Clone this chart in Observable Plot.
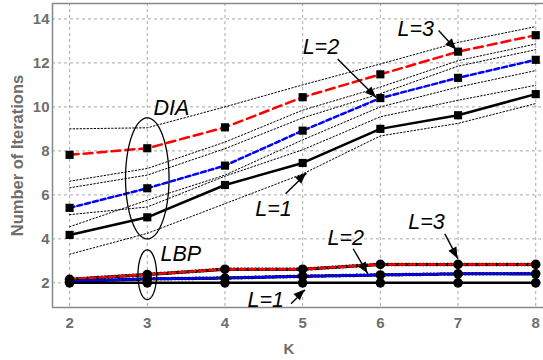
<!DOCTYPE html>
<html><head><meta charset="utf-8">
<script src="https://cdn.jsdelivr.net/npm/d3@7"></script>
<script src="https://cdn.jsdelivr.net/npm/@observablehq/plot@0.6"></script>
<style>body{margin:0;background:#fff} svg{display:block}</style>
</head><body><div id="chart"></div>
<script>
// ---- data ----
const K = [2, 3, 4, 5, 6, 7, 8];
// DIA means
const diaL1 = [4.18, 4.98, 6.45, 7.45, 9.0, 9.62, 10.58];
const diaL2 = [5.41, 6.3, 7.33, 8.92, 10.4, 11.32, 12.14];
const diaL3 = [7.82, 8.12, 9.07, 10.44, 11.48, 12.51, 13.26];
// DIA dotted bounds
const diaL1Up = [5.1, 5.45, 6.85, 8.05, 9.55, 10.3, 10.98];
const diaL1Lo = [3.3, 4.25, 5.6, 6.95, 8.68, 9.25, 10.15];
const diaL2Up = [6.32, 6.9, 8.1, 9.5, 10.6, 11.85, 12.6];
const diaL2Lo = [4.55, 5.76, 6.9, 8.5, 10.0, 10.9, 11.65];
const diaL3Up = [9.0, 9.05, 10.0, 11.0, 11.95, 12.93, 13.65];
const diaL3Lo = [6.62, 7.2, 8.4, 9.85, 10.9, 12.1, 12.86];
// LBP means
const lbpL1 = [2.0, 2.0, 2.0, 2.0, 2.0, 2.0, 2.0];
const lbpL2 = [2.07, 2.18, 2.22, 2.3, 2.36, 2.41, 2.41];
const lbpL3 = [2.16, 2.38, 2.62, 2.62, 2.84, 2.84, 2.84];
// ticks
const xTicks = [2, 3, 4, 5, 6, 7, 8];
const yTicks = [2, 4, 6, 8, 10, 12, 14];
// annotations
const labelText = ["DIA", "LBP", "L=1", "L=2", "L=3", "L=1", "L=2", "L=3"];
const labelX = [3.08, 3.17, 4.39, 5.0, 6.22, 4.29, 5.32, 6.36];
const labelY = [9.65, 2.98, 5.06, 12.42, 13.24, 0.9, 3.74, 4.47];
const arrowX1 = [4.78, 5.45, 6.75, 4.85, 5.65, 6.83];
const arrowY1 = [6.05, 12.18, 13.47, 1.05, 3.55, 4.23];
const arrowX2 = [5.05, 5.95, 6.98, 5.03, 5.84, 7.0];
const arrowY2 = [6.98, 10.41, 12.59, 1.68, 2.41, 3.09];
const ellipseK = [3, 3];
const ellipseY1 = [4.0, 1.24];
const ellipseY2 = [9.5, 3.5];
const ellipseDK = [0.28, 0.12];

// ---- tables ----
const rows = (arr) => K.map((k, i) => ({k, v: arr[i]}));
const bounds = [diaL1Up, diaL1Lo, diaL2Up, diaL2Lo, diaL3Up, diaL3Lo]
  .flatMap((arr, j) => K.map((k, i) => ({k, v: arr[i], s: j})));
const labels = labelText.map((t, i) => ({t, x: labelX[i], y: labelY[i]}));
const arrows = arrowX1.map((x1, i) => ({x1, y1: arrowY1[i], x2: arrowX2[i], y2: arrowY2[i]}));
const ellipsePts = ellipseK.flatMap((k, j) => {
  const yc = (ellipseY1[j] + ellipseY2[j]) / 2, ry = (ellipseY2[j] - ellipseY1[j]) / 2;
  return d3.range(0, 2 * Math.PI + 0.01, Math.PI / 60).map(t => ({x: k + ellipseDK[j] * Math.cos(t), y: yc + ry * Math.sin(t), id: j}));
});
const allDia = [...rows(diaL1), ...rows(diaL2), ...rows(diaL3)];
const allLbp = [...rows(lbpL1), ...rows(lbpL2), ...rows(lbpL3)];

const gray = "#6e6e6e";
const xDomain = [1.78, 8.1];
const yDomain = [0.88, 14.7];

function arrowHeads(index, scales) {
  const g = d3.create("svg:g");
  for (const d of arrows) {
    const x1 = scales.x(d.x1), y1 = scales.y(d.y1), x2 = scales.x(d.x2), y2 = scales.y(d.y2);
    const a = Math.atan2(y2 - y1, x2 - x1);
    const L = 11, w = 4.5;
    const bx = x2 - L * Math.cos(a), by = y2 - L * Math.sin(a);
    const px = -Math.sin(a) * w, py = Math.cos(a) * w;
    g.append("path")
      .attr("d", `M${x2},${y2}L${bx + px},${by + py}L${bx - px},${by - py}Z`)
      .attr("fill", "black");
  }
  return g.node();
}

const chart = Plot.plot({
  width: 543,
  height: 360,
  marginLeft: 52,
  marginRight: 0,
  marginTop: 3,
  marginBottom: 53,
  style: {fontFamily: "'Liberation Sans', Arial, sans-serif", color: gray, background: "white"},
  x: {domain: xDomain},
  y: {domain: yDomain},
  marks: [
    Plot.gridX(xTicks, {stroke: "#777", strokeOpacity: 0.8, strokeDasharray: "3,3", strokeWidth: 0.8}),
    Plot.gridY(yTicks, {stroke: "#777", strokeOpacity: 0.8, strokeDasharray: "3,3", strokeWidth: 0.8}),
    Plot.ruleX([xDomain[0]], {stroke: "#888", strokeWidth: 1.5}),
    Plot.ruleY([yDomain[0], yDomain[1]], {stroke: "#888", strokeWidth: 1.5}),
    Plot.axisX({ticks: xTicks, tickFormat: "d", tickSize: 0, tickPadding: 10, label: null, fontSize: 15, fontWeight: "bold", fill: gray}),
    Plot.axisY({ticks: yTicks, tickFormat: "d", tickSize: 0, tickPadding: 3, label: null, fontSize: 15, fontWeight: "bold", fill: gray}),
    Plot.text(["Number of Iterations"], {frameAnchor: "left", rotate: -90, dx: -35, fontSize: 16.5, fontWeight: "bold", fill: gray, textAnchor: "middle"}),
    Plot.text(["K"], {frameAnchor: "bottom", dx: -9, dy: 46, lineAnchor: "bottom", fontSize: 15, fontWeight: "bold", fill: gray}),
    // DIA dotted bounds
    Plot.line(bounds, {x: "k", y: "v", z: "s", stroke: "black", strokeWidth: 1, strokeDasharray: "1.5,2"}),
    // DIA mean lines
    Plot.line(rows(diaL1), {x: "k", y: "v", stroke: "black", strokeWidth: 2.5}),
    Plot.line(rows(diaL2), {x: "k", y: "v", stroke: "#0000ff", strokeWidth: 2.5, strokeDasharray: "5,3"}),
    Plot.line(rows(diaL3), {x: "k", y: "v", stroke: "#ff0000", strokeWidth: 2.5, strokeDasharray: "9,5"}),
    Plot.dot(allDia, {x: "k", y: "v", symbol: "square", r: 4.6, fill: "black"}),
    // LBP
    Plot.line(rows(lbpL3), {x: "k", y: "v", stroke: "black", strokeWidth: 3.5, strokeDasharray: "1,2.5"}),
    Plot.line(rows(lbpL3), {x: "k", y: "v", stroke: "#ff0000", strokeWidth: 2.5, strokeDasharray: "6,4"}),
    Plot.line(rows(lbpL2), {x: "k", y: "v", stroke: "black", strokeWidth: 3.5, strokeDasharray: "1,2.5"}),
    Plot.line(rows(lbpL2), {x: "k", y: "v", stroke: "#0000ff", strokeWidth: 2.5, strokeDasharray: "4,2"}),
    Plot.line(rows(lbpL1), {x: "k", y: "v", stroke: "black", strokeWidth: 2.5}),
    Plot.dot(allLbp, {x: "k", y: "v", r: 4.8, fill: "black"}),
    // ellipses
    Plot.line(ellipsePts, {x: "x", y: "y", z: "id", stroke: "black", strokeWidth: 1.3, curve: "linear"}),
    // labels and arrows
    Plot.text(labels, {x: "x", y: "y", text: "t", textAnchor: "start", lineAnchor: "bottom", fontSize: 21.5, fontStyle: "italic", fill: "black"}),
    Plot.link(arrows, {x1: "x1", y1: "y1", x2: "x2", y2: "y2", stroke: "black", strokeWidth: 1.4}),
    arrowHeads
  ]
});
document.getElementById("chart").appendChild(chart);
</script>
</body></html>
